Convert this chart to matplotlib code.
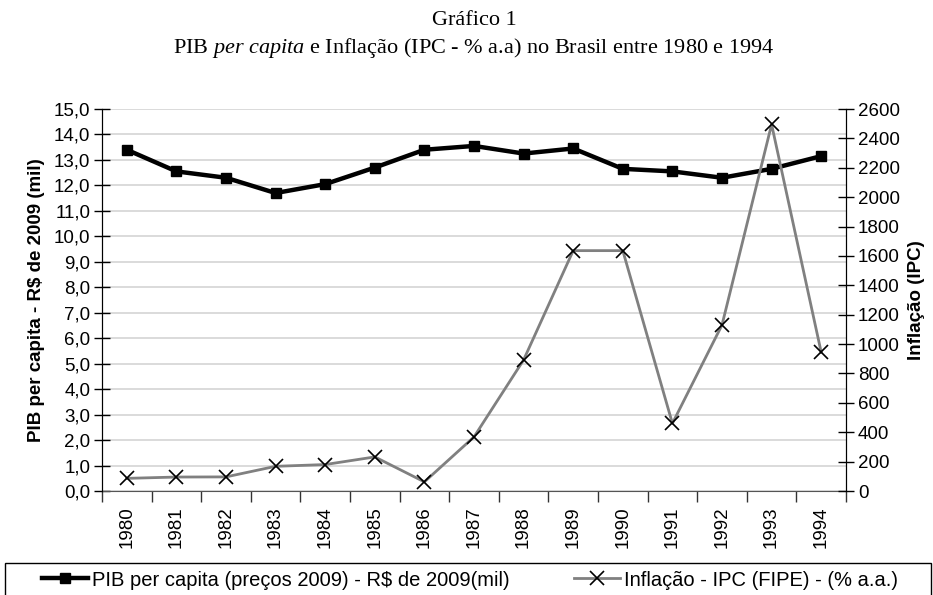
import matplotlib.pyplot as plt
import matplotlib.patches as patches
from matplotlib.lines import Line2D
import numpy as np

plt.rcParams['font.family'] = ['Liberation Sans', 'DejaVu Sans']
plt.rcParams['mathtext.fontset'] = 'custom'
plt.rcParams['mathtext.rm'] = 'Liberation Serif'
plt.rcParams['mathtext.it'] = 'Liberation Serif:italic'

# Data
anos = ['1980', '1981', '1982', '1983', '1984', '1985', '1986', '1987',
        '1988', '1989', '1990', '1991', '1992', '1993', '1994']
pib_per_capita = [13.4, 12.55, 12.3, 11.7, 12.05, 12.7, 13.4, 13.55,
                  13.25, 13.45, 12.65, 12.55, 12.3, 12.65, 13.15]
inflacao_ipc = [86, 95, 96, 168, 180, 232, 62, 368,
                892, 1636, 1636, 460, 1130, 2495, 944]
yticks_esq = [i * 1.0 for i in range(16)]
yticks_dir = list(range(0, 2601, 200))

x = np.arange(len(anos))

fig = plt.figure(figsize=(9.33, 5.95), dpi=100)
ax = fig.add_axes([102 / 933, 1 - 491 / 595, 744 / 933, 382 / 595])
ax2 = ax.twinx()

# grid
ax.set_axisbelow(True)
ax.yaxis.grid(True, color='#d4d4d4', linewidth=1.2)

ax.plot(x, pib_per_capita, color='black', linewidth=3.2, marker='s',
        markersize=6.5, zorder=3)
ax2.plot(x, inflacao_ipc, color='#808080', linewidth=2.0, marker='x',
         markersize=10, markeredgecolor='black', markeredgewidth=1.2)

ax.set_xlim(-0.5, len(anos) - 0.5)
ax.set_ylim(0, 15)
ax2.set_ylim(0, 2600)

ax.set_yticks(yticks_esq)
ax.set_yticklabels(['{:.1f}'.format(v).replace('.', ',') for v in yticks_esq])
ax2.set_yticks(yticks_dir)
ax2.set_yticklabels([str(v) for v in yticks_dir])

ax.set_xticks(x)
ax.set_xticklabels(anos, rotation=90)
ax.set_xticks(np.arange(-0.5, len(anos), 1.0), minor=True)
ax.tick_params(axis='x', which='major', length=0, pad=11, labelsize=13.5)
ax.tick_params(axis='x', which='minor', length=8, width=1, direction='out', color='#333333')
ax.tick_params(axis='y', length=11, width=1, direction='inout', labelsize=13.5, pad=3)
ax2.tick_params(axis='y', length=11, width=1, direction='inout', labelsize=13.5, pad=3)

for a in (ax, ax2):
    a.spines['top'].set_visible(False)
    a.spines['left'].set_color('black')
    a.spines['right'].set_color('black')
    a.spines['bottom'].set_color('#555555')
ax2.spines['bottom'].set_visible(False)

ax.set_ylabel('PIB per capita - R$ de 2009 (mil)', fontsize=13.5, fontweight='bold', labelpad=6)
ax2.set_ylabel('Inflação (IPC)', fontsize=13.5, fontweight='bold', labelpad=6)

# title
fig.text(474 / 933, 1 - 25 / 595, 'Gráfico 1', ha='center', va='baseline',
         fontsize=16, family='Liberation Serif')
fig.text(474 / 933, 1 - 53 / 595,
         r'PIB $\it{per\ capita}$ e Inflação (IPC - % a.a) no Brasil entre 1980 e 1994',
         ha='center', va='baseline', fontsize=16, family='Liberation Serif')

# legend
fig.patches.append(patches.Rectangle((5 / 933, -0.01), 926 / 933, (595 - 563) / 595 + 0.01,
                                     transform=fig.transFigure, fill=False,
                                     edgecolor='black', linewidth=1.0))
h1 = Line2D([], [], color='black', linewidth=3.2, marker='s', markersize=6.5)
h2 = Line2D([], [], color='#808080', linewidth=2.0, marker='x', markersize=10,
            markeredgecolor='black', markeredgewidth=1.2)
fig.legend([h1, h2], ['PIB per capita (preços 2009) - R$ de 2009(mil)',
                      'Inflação - IPC (FIPE) - (% a.a.)'],
           loc='center', bbox_to_anchor=(42 / 933, 1 - 580 / 595 - 0.02, 856 / 933, 0.04),
           mode='expand', ncol=2, frameon=False, fontsize=14.5,
           handlelength=2.3, handletextpad=0.2, borderaxespad=0, borderpad=0)

fig.savefig('out.png', dpi=100)
